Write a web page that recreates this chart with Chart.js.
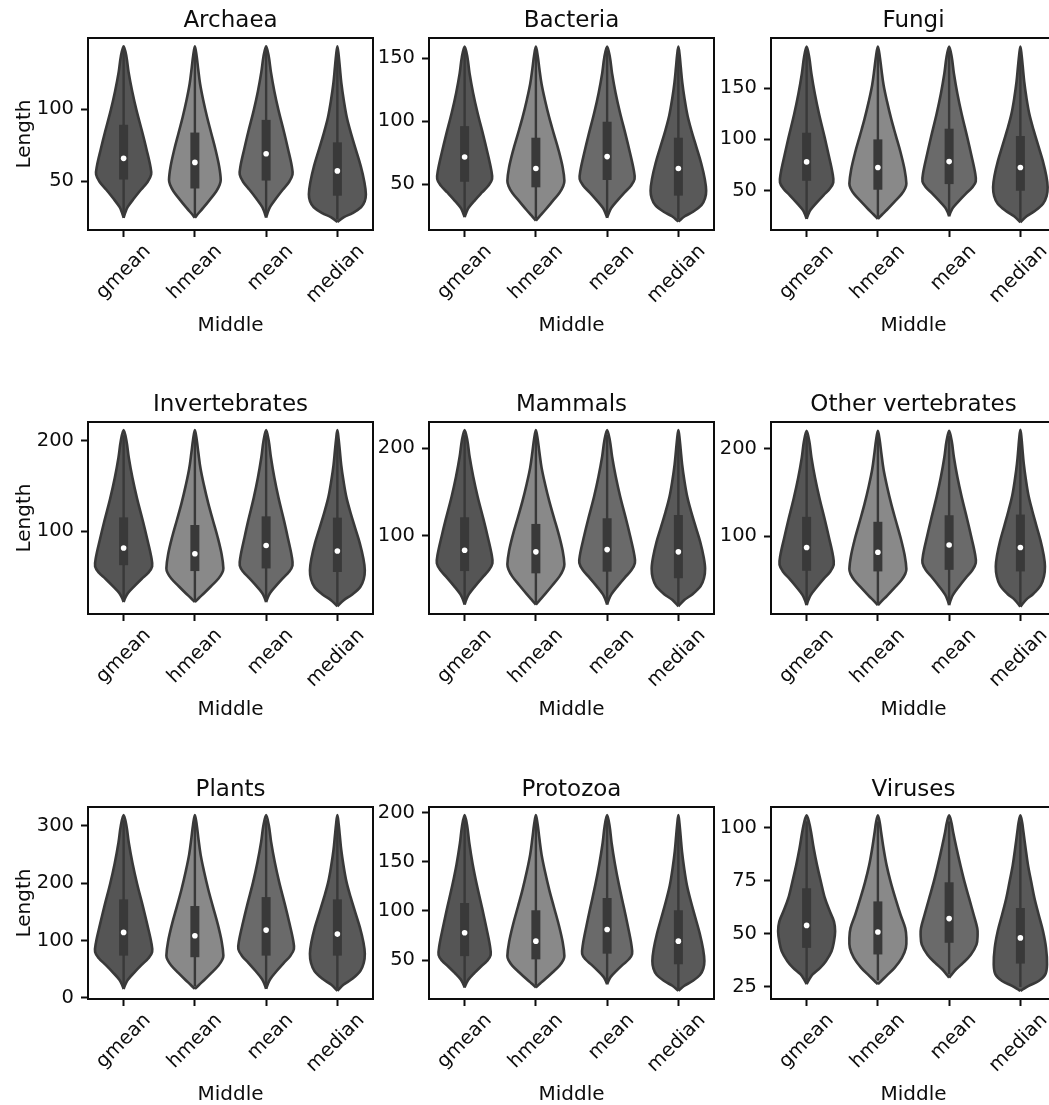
<!DOCTYPE html>
<html><head><meta charset="utf-8">
<script src="https://cdn.jsdelivr.net/npm/chart.js@4.4.1/dist/chart.umd.min.js"></script>
<style>
html,body{margin:0;padding:0;background:#fff;width:1049px;height:1105px;overflow:hidden;}
#wrap{position:relative;width:1049px;height:1105px;overflow:hidden;background:#fff;}
canvas{position:absolute;}
</style></head><body><div id="wrap"></div>
<script>
// ---------------- DATA ----------------
const categories = ['gmean', 'hmean', 'mean', 'median'];
const panelTitles = ['Archaea', 'Bacteria', 'Fungi', 'Invertebrates', 'Mammals', 'Other vertebrates', 'Plants', 'Protozoa', 'Viruses'];
const yLabel = 'Length';
const xLabel = 'Middle';
const yRanges = [[16.2,149.4],[13.5,166],[11.8,198.7],[8.6,220.6],[10,230],[10.5,231],[-2,333],[10.4,205.6],[19.3,109.8]];
const yTickValues = [[50,100],[50,100,150],[50,100,150],[100,200],[100,200],[100,200],[0,100,200,300],[50,100,150,200],[25,50,75,100]];

// violin outlines: [length, half-width (fraction of category spacing)], per category
const archaeaShapes = [
  [[24.7,0],[28.3,0.023],[32.2,0.058],[38.2,0.147],[44.1,0.243],[49.5,0.336],[54.6,0.386],[60.8,0.374],[72.4,0.320],[84.0,0.262],[99.2,0.181],[112.5,0.120],[125.9,0.069],[136.6,0.039],[143.7,0]],
  [[24.7,0],[28.0,0.054],[31.5,0.116],[37.3,0.211],[43.1,0.301],[47.6,0.348],[51,0.363],[60.3,0.341],[71.9,0.290],[83.5,0.229],[94.6,0.171],[106.6,0.116],[117.7,0.073],[128.9,0.044],[137.2,0.024],[143.7,0]],
  [[24.7,0],[28.3,0.022],[32.2,0.056],[38.2,0.141],[44.1,0.233],[49.5,0.322],[54.6,0.37],[60.8,0.359],[72.4,0.307],[84.0,0.252],[99.2,0.174],[112.5,0.115],[125.9,0.067],[136.6,0.037],[143.7,0]],
  [[21.8,0],[25.1,0.092],[27.9,0.212],[32.0,0.332],[36.2,0.384],[41,0.40],[49.2,0.38],[60.5,0.328],[71.8,0.26],[83.1,0.192],[94.4,0.132],[106.7,0.088],[118,0.056],[129.3,0.034],[137.5,0.018],[143.7,0]]
];
const bacteriaShapes = [
  [[23.7,0],[27.3,0.023],[31.3,0.058],[37.3,0.146],[43.3,0.243],[48.8,0.335],[53.9,0.385],[61.3,0.373],[75.0,0.320],[88.7,0.262],[106.6,0.181],[122.4,0.119],[138.1,0.069],[150.8,0.039],[159.2,0]],
  [[21,0],[25.0,0.06],[29.2,0.128],[36.2,0.232],[43.1,0.332],[48.5,0.384],[52.6,0.40],[63.3,0.376],[76.6,0.320],[89.9,0.252],[102.7,0.188],[116.6,0.128],[129.4,0.080],[142.1,0.048],[151.7,0.026],[159.2,0]],
  [[23.2,0],[26.9,0.023],[30.9,0.058],[37.0,0.146],[43.2,0.243],[48.7,0.335],[53.9,0.385],[61.3,0.373],[75.0,0.320],[88.7,0.262],[106.6,0.181],[122.4,0.119],[138.1,0.069],[150.8,0.039],[159.2,0]],
  [[20.2,0],[24.4,0.09],[28.0,0.207],[33.2,0.324],[38.6,0.374],[44.7,0.39],[53.9,0.371],[66.5,0.320],[79.1,0.254],[91.7,0.187],[104.2,0.129],[118.0,0.086],[130.6,0.055],[143.2,0.033],[152.3,0.018],[159.2,0]]
];
const fungiShapes = [
  [[22.6,0],[26.9,0.022],[31.5,0.056],[38.5,0.142],[45.6,0.236],[52.0,0.325],[58,0.374],[67.3,0.363],[84.5,0.310],[101.7,0.254],[124.2,0.176],[144.1,0.116],[163.9,0.067],[179.8,0.037],[190.4,0]],
  [[22.6,0],[26.9,0.06],[31.5,0.128],[39.1,0.232],[46.7,0.332],[52.5,0.384],[57,0.40],[70.3,0.376],[87.0,0.320],[103.7,0.252],[119.7,0.188],[137.0,0.128],[153.0,0.080],[169.1,0.048],[181.1,0.026],[190.4,0]],
  [[25.2,0],[29.3,0.022],[33.7,0.056],[40.4,0.142],[47.2,0.236],[53.3,0.325],[59,0.374],[68.2,0.363],[85.3,0.310],[102.4,0.254],[124.7,0.176],[144.4,0.116],[164.1,0.067],[179.9,0.037],[190.4,0]],
  [[19.4,0],[25.2,0.088],[30.3,0.203],[37.4,0.318],[44.8,0.368],[53.3,0.383],[64.3,0.364],[79.4,0.314],[94.4,0.249],[109.5,0.184],[124.6,0.126],[141.0,0.084],[156.1,0.054],[171.2,0.033],[182.2,0.017],[190.4,0]]
];
const invertebratesShapes = [
  [[21.8,0],[26.5,0.024],[31.6,0.06],[39.4,0.152],[47.3,0.252],[54.3,0.348],[61,0.40],[71.5,0.388],[91.1,0.332],[110.7,0.272],[136.3,0.188],[158.9,0.124],[181.5,0.072],[199.6,0.040],[211.6,0]],
  [[21.8,0],[26.5,0.06],[31.5,0.128],[39.7,0.232],[47.8,0.332],[54.2,0.384],[59,0.40],[74.3,0.376],[93.3,0.320],[112.4,0.252],[130.7,0.188],[150.6,0.128],[168.9,0.080],[187.2,0.048],[200.9,0.026],[211.6,0]],
  [[21.8,0],[26.6,0.022],[31.9,0.056],[39.9,0.141],[47.9,0.233],[55.2,0.322],[62,0.37],[72.5,0.359],[91.9,0.307],[111.4,0.252],[136.8,0.174],[159.2,0.115],[181.7,0.067],[199.6,0.037],[211.6,0]],
  [[17.1,0],[23.9,0.089],[29.9,0.204],[38.3,0.32],[47.0,0.37],[57,0.385],[69.4,0.366],[86.4,0.316],[103.4,0.250],[120.4,0.185],[137.4,0.127],[156.0,0.085],[173.0,0.054],[190.0,0.033],[202.3,0.017],[211.6,0]]
];
const mammalsShapes = [
  [[20.7,0],[26.4,0.023],[32.5,0.059],[42.0,0.148],[51.5,0.246],[60.0,0.339],[68,0.39],[78.7,0.378],[98.6,0.324],[118.4,0.265],[144.4,0.183],[167.3,0.121],[190.2,0.070],[208.6,0.039],[220.8,0]],
  [[20.7,0],[26.5,0.06],[32.7,0.128],[42.9,0.232],[53.1,0.332],[61.0,0.384],[67,0.40],[82.4,0.376],[101.6,0.320],[120.8,0.252],[139.3,0.188],[159.3,0.128],[177.7,0.080],[196.2,0.048],[210.0,0.026],[220.8,0]],
  [[20.7,0],[26.4,0.023],[32.5,0.059],[42.0,0.148],[51.5,0.246],[60.0,0.339],[68.5,0.39],[79.2,0.378],[99.0,0.324],[118.8,0.265],[144.6,0.183],[167.5,0.121],[190.3,0.070],[208.6,0.039],[220.8,0]],
  [[18.9,0],[26.2,0.086],[32.7,0.199],[41.7,0.311],[51.2,0.36],[62,0.375],[74.7,0.356],[92.2,0.308],[109.6,0.244],[127.1,0.18],[144.6,0.124],[163.6,0.083],[181.1,0.053],[198.6,0.032],[211.3,0.017],[220.8,0]]
];
const otherVertebratesShapes = [
  [[20.6,0],[26.2,0.023],[32.2,0.057],[41.5,0.144],[50.8,0.239],[59.1,0.331],[67,0.38],[77.8,0.369],[97.8,0.315],[117.8,0.258],[144.0,0.179],[167.0,0.118],[190.1,0.068],[208.6,0.038],[220.9,0]],
  [[20.6,0],[25.8,0.06],[31.4,0.128],[40.5,0.232],[49.6,0.332],[56.6,0.384],[62,0.40],[77.9,0.376],[97.8,0.320],[117.6,0.252],[136.7,0.188],[157.3,0.128],[176.4,0.080],[195.5,0.048],[209.8,0.026],[220.9,0]],
  [[20.6,0],[26.4,0.022],[32.7,0.056],[42.4,0.142],[52.1,0.236],[60.8,0.325],[69,0.374],[79.6,0.363],[99.4,0.310],[119.1,0.254],[145.0,0.176],[167.7,0.116],[190.5,0.067],[208.8,0.037],[220.9,0]],
  [[19,0],[26.8,0.079],[33.7,0.183],[43.4,0.286],[53.5,0.331],[65,0.345],[77.6,0.328],[94.8,0.283],[112.1,0.224],[129.4,0.166],[146.6,0.114],[165.5,0.076],[182.8,0.048],[200.0,0.029],[212.6,0.016],[222,0]]
];
const plantsShapes = [
  [[15.6,0],[23.3,0.024],[31.7,0.06],[44.6,0.152],[57.5,0.252],[69.1,0.348],[80,0.40],[96.7,0.388],[127.8,0.332],[158.8,0.272],[199.5,0.188],[235.3,0.124],[271.1,0.072],[299.8,0.040],[318.9,0]],
  [[15.6,0],[22.9,0.06],[30.8,0.128],[43.6,0.232],[56.5,0.332],[66.4,0.384],[74,0.40],[98.5,0.376],[129.1,0.320],[159.7,0.252],[189.1,0.188],[220.9,0.128],[250.3,0.080],[279.7,0.048],[301.8,0.026],[318.9,0]],
  [[15.6,0],[23.9,0.023],[33.0,0.059],[46.8,0.148],[60.7,0.246],[73.2,0.339],[85,0.39],[101.4,0.378],[131.8,0.324],[162.2,0.265],[202.0,0.183],[237.0,0.121],[272.1,0.070],[300.2,0.039],[318.9,0]],
  [[12.1,0],[23.1,0.089],[32.9,0.204],[46.5,0.32],[60.8,0.37],[77,0.385],[96.4,0.366],[123.0,0.316],[149.6,0.250],[176.2,0.185],[202.8,0.127],[231.8,0.085],[258.4,0.054],[285.0,0.033],[304.4,0.017],[318.9,0]]
];
const protozoaShapes = [
  [[22.1,0],[26.1,0.022],[30.3,0.055],[36.9,0.139],[43.5,0.23],[49.4,0.318],[55,0.365],[65.0,0.354],[83.5,0.303],[102.0,0.248],[126.2,0.172],[147.5,0.113],[168.8,0.066],[185.9,0.037],[197.3,0]],
  [[22.1,0],[26.1,0.06],[30.4,0.128],[37.4,0.232],[44.4,0.332],[49.9,0.384],[54,0.40],[68.3,0.376],[86.2,0.320],[104.2,0.252],[121.4,0.188],[140.0,0.128],[157.2,0.080],[174.4,0.048],[187.3,0.026],[197.3,0]],
  [[25.4,0],[29.1,0.021],[33.1,0.053],[39.2,0.133],[45.3,0.221],[50.8,0.305],[56,0.35],[65.9,0.340],[84.3,0.291],[102.6,0.238],[126.7,0.165],[147.9,0.109],[169.0,0.063],[186.0,0.035],[197.3,0]],
  [[18.7,0],[23.9,0.084],[28.4,0.193],[34.8,0.303],[41.4,0.35],[49,0.365],[60.9,0.347],[77.2,0.299],[93.5,0.237],[109.8,0.175],[126.1,0.120],[143.9,0.080],[160.2,0.051],[176.5,0.031],[188.4,0.016],[197.3,0]]
];
const virusesShapes = [
  [[26.3,0],[28.6,0.037],[30.9,0.084],[34.0,0.19],[37.1,0.27],[41.8,0.35],[46.5,0.384],[51.2,0.40],[55.8,0.384],[60.5,0.327],[66.8,0.257],[74.6,0.2],[82.4,0.146],[90.2,0.1],[98.0,0.062],[102.5,0.035],[105.9,0]],
  [[26.3,0],[27.8,0.047],[30.1,0.117],[34.0,0.234],[38.7,0.337],[43.4,0.393],[48.1,0.40],[52.7,0.384],[59.0,0.318],[66.8,0.245],[74.6,0.178],[82.4,0.122],[90.2,0.08],[98.0,0.045],[102.5,0.026],[105.9,0]],
  [[29.4,0],[30.9,0.037],[33.2,0.094],[36.3,0.196],[40.2,0.304],[44.9,0.384],[49.5,0.40],[52.7,0.395],[59.0,0.345],[66.8,0.28],[74.6,0.215],[82.4,0.158],[90.2,0.105],[98.0,0.056],[102.5,0.032],[105.9,0]],
  [[23.1,0],[23.9,0.037],[25.5,0.117],[27.8,0.257],[30.9,0.35],[35.6,0.374],[43.4,0.36],[51.2,0.318],[59.0,0.257],[66.8,0.198],[74.6,0.152],[82.4,0.107],[90.2,0.074],[98.0,0.043],[102.5,0.025],[105.9,0]]
];

// inner box stats per category: [whisker low, q1, median, q3, whisker high]
const archaeaBoxes = [[26,51.2,65.9,89.2,141],[26,45,63.1,83.8,141],[26,50.5,69.1,92.6,141],[23.5,40,57.2,77,141]];
const bacteriaBoxes = [[25,51.8,71.5,96,156],[23,47.4,62.4,86.8,156],[25,53.2,71.8,99.5,156],[22,40.8,62.4,86.8,156]];
const fungiBoxes = [[24.5,59.7,78.1,106.5,186],[24.5,51,72.6,100,186],[27,56.5,78.4,110.4,186],[21.5,50,72.6,103.3,186]];
const invertebratesBoxes = [[24,62.5,81.5,115.3,206],[24,56,75.2,106.9,206],[24,58.9,84.3,116.4,206],[19.5,55,78.2,115,206]];
const mammalsBoxes = [[23,59.2,83,120.8,215],[23,56.6,81.2,113.2,215],[23,58.5,83.8,119.7,215],[21,51,81.2,123.4,215]];
const otherVertebratesBoxes = [[23,60.1,86.8,122.1,215],[23,59.4,81.4,116.4,215],[23,61.2,89.8,123.9,215],[21.5,59.4,86.8,124.7,216]];
const plantsBoxes = [[20,73.7,114.2,171.8,310],[20,70.9,108.3,160.2,310],[20,73.7,118.2,175.8,310],[16,73.7,111.2,171.8,310]];
const protozoaBoxes = [[24,54,77.7,108,192],[24,50.7,69.2,100.6,192],[27,56.5,81,113.1,192],[20.5,45.7,69.2,100.6,192]];
const virusesBoxes = [[28,43.4,54,71.5,103],[28,40.3,50.9,65.3,103],[31,45.8,57.2,74.3,103],[25,36,48.1,62.2,103]];

const allShapes = [archaeaShapes, bacteriaShapes, fungiShapes, invertebratesShapes, mammalsShapes, otherVertebratesShapes, plantsShapes, protozoaShapes, virusesShapes];
const allBoxes = [archaeaBoxes, bacteriaBoxes, fungiBoxes, invertebratesBoxes, mammalsBoxes, otherVertebratesBoxes, plantsBoxes, protozoaBoxes, virusesBoxes];

// ---------------- STYLE / LAYOUT ----------------
const fills = ['#555555', '#898989', '#6a6a6a', '#595959'];
const edge = '#393939';
const ink = '#0d0d0d';
const plotLefts = [88, 429, 771];
const plotTops = [38, 422, 807];
const PW = 285, PH = 192;
const LM = 85, TM = 45, RM = 12, BM = 120;

Chart.defaults.font.family = "'DejaVu Sans', sans-serif";
Chart.defaults.color = ink;

const framePlugin = {
  id: 'frame',
  afterDatasetsDraw(chart) {
    const {ctx, chartArea: a} = chart;
    ctx.save();
    ctx.strokeStyle = ink;
    ctx.lineWidth = 2;
    ctx.strokeRect(a.left, a.top, a.right - a.left, a.bottom - a.top);
    ctx.restore();
  }
};

function buildDatasets(shapes, boxes) {
  const ds = [];
  shapes.forEach((shape, i) => {
    const right = shape.map(([y, w]) => ({x: i + w, y}));
    const left = shape.slice(0, -1).reverse().map(([y, w]) => ({x: i - w, y}));
    ds.push({data: right.concat(left), borderColor: edge, borderWidth: 2.6, backgroundColor: fills[i],
      fill: 'shape', tension: 0.35, pointRadius: 0, order: 4});
    const [wlo, q1, med, q3, whi] = boxes[i];
    ds.push({data: [{x: i, y: wlo}, {x: i, y: whi}], borderColor: edge, borderWidth: 2.4,
      pointRadius: 0, fill: false, tension: 0, order: 3});
    ds.push({data: [{x: i, y: q1}, {x: i, y: q3}], borderColor: edge, borderWidth: 9,
      borderCapStyle: 'butt', pointRadius: 0, fill: false, tension: 0, order: 2});
    ds.push({data: [{x: i, y: med}], showLine: false, pointRadius: 2.8, pointBackgroundColor: '#ffffff',
      pointBorderWidth: 0, pointBorderColor: '#ffffff', order: 1});
  });
  return ds;
}

const wrap = document.getElementById('wrap');
panelTitles.forEach((title, p) => {
  const r = Math.floor(p / 3), c = p % 3;
  const cv = document.createElement('canvas');
  const W = LM + PW + RM, H = TM + PH + BM;
  cv.width = W; cv.height = H;
  cv.style.width = W + 'px'; cv.style.height = H + 'px';
  cv.style.left = (plotLefts[c] - LM) + 'px';
  cv.style.top = (plotTops[r] - TM) + 'px';
  wrap.appendChild(cv);
  new Chart(cv, {
    type: 'line',
    data: {datasets: buildDatasets(allShapes[p], allBoxes[p])},
    options: {
      responsive: false, animation: false, events: [],
      layout: {padding: {left: 0, right: RM, top: 0, bottom: 0}},
      plugins: {
        legend: {display: false}, tooltip: {enabled: false},
        title: {display: true, fullSize: false, text: title, color: ink, font: {size: 23, weight: 'normal'}, padding: {top: 14.4, bottom: 3}}
      },
      scales: {
        x: {
          type: 'linear', min: -0.5, max: 3.5,
          afterBuildTicks: s => { s.ticks = categories.map((_, i) => ({value: i})); },
          afterFit: s => { s.height = BM; },
          ticks: {autoSkip: false, minRotation: 45, maxRotation: 45, padding: 3, labelOffset: 24,
            font: {size: 19.5}, color: ink, callback: v => categories[v]},
          grid: {display: true, drawOnChartArea: false, drawTicks: true, tickLength: 7, tickWidth: 2, tickColor: ink},
          border: {display: false},
          title: {display: true, text: xLabel, color: ink, font: {size: 20}, padding: {top: 0, bottom: 12}}
        },
        y: {
          type: 'linear', min: yRanges[p][0], max: yRanges[p][1],
          afterBuildTicks: s => { s.ticks = yTickValues[p].map(v => ({value: v})); },
          afterFit: s => { s.width = LM; },
          ticks: {font: {size: 19.5}, color: ink, padding: 7},
          grid: {display: true, drawOnChartArea: false, drawTicks: true, tickLength: 7, tickWidth: 2, tickColor: ink},
          border: {display: false},
          title: {display: c === 0, text: yLabel, color: ink, font: {size: 20}, padding: {top: 10, bottom: 0}}
        }
      }
    },
    plugins: [framePlugin]
  });
});
</script></body></html>
